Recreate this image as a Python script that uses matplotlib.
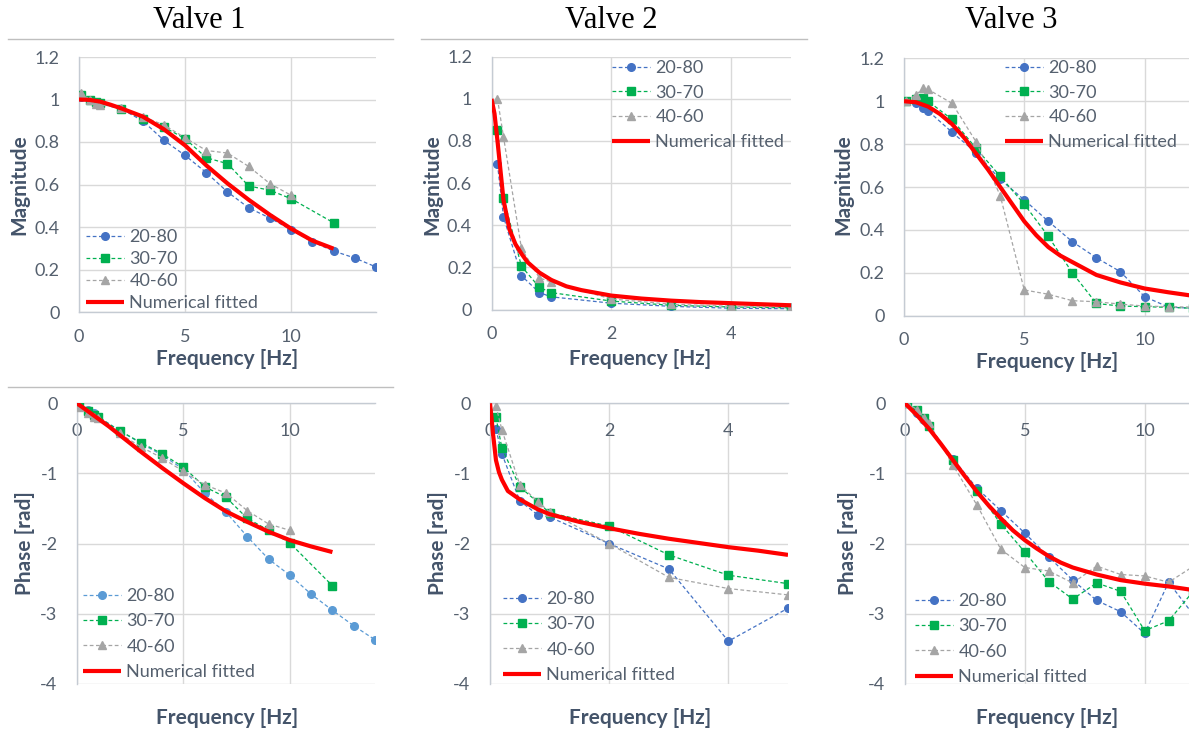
import matplotlib
matplotlib.use("Agg")
import matplotlib.pyplot as plt
from matplotlib.lines import Line2D

plt.rcParams['font.family'] = ['Lato', 'DejaVu Sans']
plt.rcParams['axes.unicode_minus'] = False

W, H = 1189, 734

# Barvy (Excel)
BLUE = '#4472C4'
LIGHT_BLUE = '#5B9BD5'
GREEN = '#00B050'
GRAY = '#A5A5A5'
RED = '#FF0000'
TICK_COLOR = '#55606E'
LABEL_COLOR = '#44546A'
GRID_COLOR = '#D9D9D9'
SPINE_COLOR = '#C5CBD3'

# ---------------- Valve 1 ----------------
v1_f_2080 = [0.1, 0.5, 0.8, 1, 2, 3, 4, 5, 6, 7, 8, 9, 10, 11, 12, 13, 14]
v1_f_3070 = [0.1, 0.5, 0.8, 1, 2, 3, 4, 5, 6, 7, 8, 9, 10, 12]
v1_f_4060 = [0.1, 0.5, 0.8, 1, 2, 3, 4, 5, 6, 7, 8, 9, 10]
v1_mag_2080 = [1.01, 1.0, 0.99, 0.98, 0.955, 0.90, 0.808, 0.737, 0.656, 0.565, 0.49, 0.442, 0.387, 0.33, 0.287, 0.254, 0.212]
v1_mag_3070 = [1.02, 1.0, 0.99, 0.985, 0.955, 0.91, 0.87, 0.816, 0.726, 0.698, 0.593, 0.573, 0.533, 0.42]
v1_mag_4060 = [1.03, 1.0, 0.98, 0.975, 0.96, 0.92, 0.88, 0.82, 0.76, 0.748, 0.685, 0.604, 0.549]
v1_fit_f = [0, 0.5, 1, 1.5, 2, 3, 4, 5, 6, 7, 8, 9, 10, 11, 12]
v1_fit_mag = [1.0, 0.998, 0.99, 0.975, 0.958, 0.92, 0.86, 0.784, 0.69, 0.605, 0.528, 0.457, 0.392, 0.336, 0.298]
v1_ph_2080 = [-0.03, -0.1, -0.14, -0.19, -0.39, -0.57, -0.74, -0.94, -1.28, -1.55, -1.90, -2.22, -2.45, -2.72, -2.95, -3.17, -3.37]
v1_ph_3070 = [-0.02, -0.11, -0.16, -0.2, -0.39, -0.56, -0.72, -0.91, -1.19, -1.34, -1.64, -1.81, -1.99, -2.6]
v1_ph_4060 = [-0.05, -0.14, -0.19, -0.21, -0.43, -0.62, -0.78, -0.97, -1.16, -1.28, -1.53, -1.72, -1.81]
v1_fit_ph = [0, -0.11, -0.22, -0.33, -0.45, -0.69, -0.92, -1.14, -1.35, -1.54, -1.69, -1.83, -1.95, -2.04, -2.12]

# ---------------- Valve 2 ----------------
v2_f = [0.1, 0.2, 0.5, 0.8, 1, 2, 3, 4, 5]
v2_mag_2080 = [0.69, 0.44, 0.16, 0.08, 0.06, 0.03, 0.015, 0.006, 0.004]
v2_mag_3070 = [0.85, 0.53, 0.205, 0.105, 0.08, 0.04, 0.02, 0.012, 0.008]
v2_mag_4060 = [1.0, 0.82, 0.29, 0.15, 0.13, 0.05, 0.025, 0.015, 0.01]
v2_fit_mag_f = [0, 0.05, 0.1, 0.15, 0.2, 0.3, 0.4, 0.5, 0.6, 0.8, 1.0, 1.25, 1.5, 2, 2.5, 3, 3.5, 4, 4.5, 5]
v2_fit_mag = [1.0, 0.93, 0.80, 0.66, 0.52, 0.38, 0.31, 0.265, 0.225, 0.175, 0.14, 0.11, 0.092, 0.066, 0.052, 0.042, 0.035, 0.03, 0.025, 0.02]
v2_ph_2080 = [-0.37, -0.72, -1.39, -1.59, -1.62, -2.0, -2.36, -3.39, -2.92]
v2_ph_3070 = [-0.2, -0.64, -1.19, -1.41, -1.56, -1.75, -2.16, -2.45, -2.57]
v2_ph_4060 = [-0.04, -0.38, -1.16, -1.40, -1.55, -2.0, -2.48, -2.64, -2.73]
v2_fit_ph_f = [0, 0.025, 0.05, 0.1, 0.15, 0.2, 0.3, 0.5, 0.8, 1, 1.5, 2, 2.5, 3, 3.5, 4, 4.5, 5]
v2_fit_ph = [0, -0.2, -0.43, -0.81, -0.98, -1.09, -1.25, -1.37, -1.51, -1.58, -1.69, -1.78, -1.86, -1.93, -1.99, -2.05, -2.1, -2.16]

# ---------------- Valve 3 ----------------
v3_f = [0.1, 0.5, 0.8, 1, 2, 3, 4, 5, 6, 7, 8, 9, 10, 11, 12]
v3_mag_2080 = [1.0, 0.99, 0.97, 0.955, 0.855, 0.76, 0.635, 0.54, 0.44, 0.345, 0.27, 0.205, 0.089, 0.04, 0.035]
v3_mag_3070 = [1.0, 1.01, 1.015, 1.0, 0.915, 0.78, 0.65, 0.52, 0.37, 0.2, 0.057, 0.045, 0.042, 0.039, 0.035]
v3_mag_4060 = [1.0, 1.03, 1.06, 1.055, 0.99, 0.81, 0.56, 0.12, 0.10, 0.07, 0.065, 0.054, 0.045, 0.042, 0.04]
v3_fit_f = [0, 0.5, 1, 1.5, 2, 2.5, 3, 3.5, 4, 4.5, 5, 5.5, 6, 6.5, 7, 8, 9, 10, 11, 12]
v3_fit_mag = [1.0, 0.995, 0.975, 0.94, 0.893, 0.83, 0.755, 0.68, 0.60, 0.52, 0.44, 0.375, 0.32, 0.28, 0.25, 0.19, 0.155, 0.127, 0.109, 0.093]
v3_ph_2080 = [0, -0.14, -0.24, -0.33, -0.79, -1.21, -1.53, -1.85, -2.19, -2.52, -2.81, -2.97, -3.28, -2.55, -3.0]
v3_ph_3070 = [0, -0.09, -0.21, -0.32, -0.81, -1.25, -1.72, -2.12, -2.54, -2.79, -2.56, -2.68, -3.24, -3.10, -2.69]
v3_ph_4060 = [0, -0.09, -0.21, -0.28, -0.88, -1.45, -2.08, -2.34, -2.39, -2.56, -2.32, -2.44, -2.46, -2.55, -2.33]
v3_fit_ph = [0, -0.17, -0.36, -0.58, -0.81, -1.04, -1.26, -1.46, -1.64, -1.81, -1.95, -2.07, -2.18, -2.27, -2.34, -2.44, -2.52, -2.57, -2.61, -2.66]

series_labels = ['20-80', '30-70', '40-60', 'Numerical fitted']
titles = ['Valve 1', 'Valve 2', 'Valve 3']

fig = plt.figure(figsize=(W / 100, H / 100), dpi=100)
fig.patch.set_facecolor('white')


def px_axes(left, right, top, bottom):
    return fig.add_axes([left / W, 1 - bottom / H, (right - left) / W, (bottom - top) / H])


def style_axes(ax, xlim, xticks, ylim, yticks, phase=False):
    ax.set_xlim(*xlim)
    ax.set_ylim(*ylim)
    ax.set_xticks(xticks)
    ax.set_yticks(yticks)
    ax.set_xticklabels([f'{v:g}' for v in xticks])
    ax.set_yticklabels([f'{v:g}' for v in yticks])
    ax.grid(True, color=GRID_COLOR, lw=1.0, zorder=0)
    ax.set_axisbelow(True)
    for s in ['top', 'right']:
        ax.spines[s].set_visible(False)
    for s in ['left', 'bottom']:
        ax.spines[s].set_color(SPINE_COLOR)
        ax.spines[s].set_linewidth(1.0)
    if phase:
        ax.spines['bottom'].set_position(('data', 0))
    ax.tick_params(axis='both', length=0, labelsize=13, colors=TICK_COLOR)
    ax.tick_params(axis='x', pad=12 if not phase else 14)
    ax.tick_params(axis='y', pad=14)


def draw_series(ax, f1, y1, f2, y2, f3, y3, ffit, yfit, c1=BLUE):
    dash = (0, (3, 2))
    ax.plot(f1, y1, color=c1, ls=dash, lw=0.9, marker='o', ms=5.5, label=series_labels[0], zorder=3)
    ax.plot(f2, y2, color=GREEN, ls=dash, lw=0.9, marker='s', ms=5.5, label=series_labels[1], zorder=3)
    ax.plot(f3, y3, color=GRAY, ls=dash, lw=0.9, marker='^', ms=6, label=series_labels[2], zorder=3)
    ax.plot(ffit, yfit, color=RED, lw=3, label=series_labels[3], zorder=4, solid_capstyle='butt')


def add_legend(ax, x, y, spacing):
    leg = ax.legend(loc='upper left', bbox_to_anchor=(x / W, 1 - y / H), bbox_transform=fig.transFigure,
                    frameon=False, fontsize=13, borderpad=0, borderaxespad=0, handlelength=2.1,
                    handletextpad=0.3, labelspacing=spacing)
    for t in leg.get_texts():
        t.set_color(TICK_COLOR)


# Magnitudy
ax1 = px_axes(79, 376, 57, 312)
draw_series(ax1, v1_f_2080, v1_mag_2080, v1_f_3070, v1_mag_3070, v1_f_4060, v1_mag_4060, v1_fit_f, v1_fit_mag)
style_axes(ax1, (0, 14), [0, 5, 10], (0, 1.2), [0, 0.2, 0.4, 0.6, 0.8, 1, 1.2])
add_legend(ax1, 86, 229.5, 0.33)

ax2 = px_axes(491.5, 791, 56.7, 309.5)
draw_series(ax2, v2_f, v2_mag_2080, v2_f, v2_mag_3070, v2_f, v2_mag_4060, v2_fit_mag_f, v2_fit_mag)
style_axes(ax2, (0, 5), [0, 2, 4], (0, 1.2), [0, 0.2, 0.4, 0.6, 0.8, 1, 1.2])
add_legend(ax2, 612, 60, 0.48)

ax3 = px_axes(904, 1189, 58.3, 315.7)
draw_series(ax3, v3_f, v3_mag_2080, v3_f, v3_mag_3070, v3_f, v3_mag_4060, v3_fit_f, v3_fit_mag)
style_axes(ax3, (0, 11.85), [0, 5, 10], (0, 1.2), [0, 0.2, 0.4, 0.6, 0.8, 1, 1.2])
add_legend(ax3, 1005, 60, 0.48)

# Faze
ax4 = px_axes(77, 375, 403.3, 684)
draw_series(ax4, v1_f_2080, v1_ph_2080, v1_f_3070, v1_ph_3070, v1_f_4060, v1_ph_4060, v1_fit_f, v1_fit_ph, c1=LIGHT_BLUE)
style_axes(ax4, (0, 14), [0, 5, 10], (-4, 0), [-4, -3, -2, -1, 0], phase=True)
add_legend(ax4, 83, 588, 0.52)

ax5 = px_axes(490, 788, 403.3, 684)
draw_series(ax5, v2_f, v2_ph_2080, v2_f, v2_ph_3070, v2_f, v2_ph_4060, v2_fit_ph_f, v2_fit_ph)
style_axes(ax5, (0, 5), [0, 2, 4], (-4, 0), [-4, -3, -2, -1, 0], phase=True)
add_legend(ax5, 503, 591, 0.52)

ax6 = px_axes(905, 1189, 403.3, 684)
draw_series(ax6, v3_f, v3_ph_2080, v3_f, v3_ph_3070, v3_f, v3_ph_4060, v3_fit_f, v3_fit_ph)
style_axes(ax6, (0, 11.85), [0, 5, 10], (-4, 0), [-4, -3, -2, -1, 0], phase=True)
add_legend(ax6, 915, 593, 0.52)

# Popisky os
label_kw = dict(fontsize=15, fontweight='bold', color=LABEL_COLOR, ha='center', va='center')
for x, y in [(19, 185), (432, 185), (843, 185)]:
    fig.text(x / W, 1 - y / H, 'Magnitude', rotation=90, **label_kw)
for x, y in [(25, 543), (438, 543), (848, 543)]:
    fig.text(x / W, 1 - y / H, 'Phase [rad]', rotation=90, **label_kw)
for x, y in [(227, 359), (640, 359), (1047, 362), (227, 718), (640, 718), (1047, 718)]:
    fig.text(x / W, 1 - y / H, 'Frequency [Hz]', **label_kw)

# Nadpisy
for x, t in zip([199, 611, 1011], titles):
    fig.text(x / W, 1 - 20 / H, t, fontsize=22, family='Liberation Serif', ha='center', va='center', color='black')

# Okraje grafu
for x0, x1, y in [(8, 393, 39), (421, 807, 39), (8, 393, 387)]:
    fig.add_artist(Line2D([x0 / W, x1 / W], [1 - y / H, 1 - y / H], transform=fig.transFigure, color='#BFBFBF', lw=1.0))

fig.savefig('out.png', dpi=100)
